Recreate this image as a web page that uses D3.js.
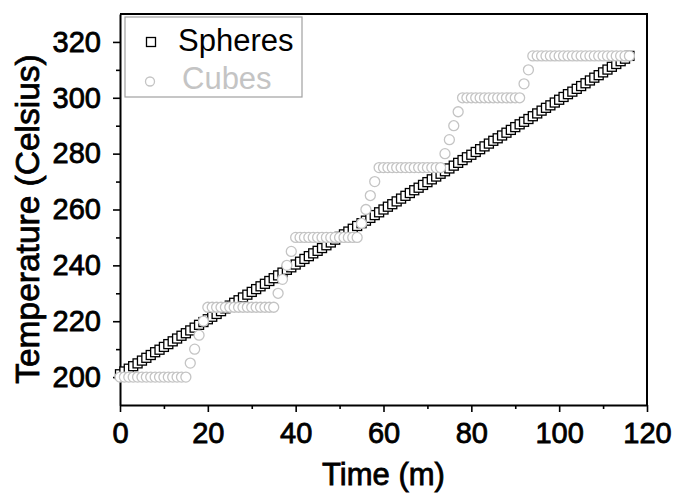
<!DOCTYPE html>
<html>
<head>
<meta charset="utf-8">
<script src="https://cdn.jsdelivr.net/npm/d3@7"></script>
<style>
    body { margin: 0; background: #fff; }
    svg { display: block; font-family: "Liberation Sans", Arial, sans-serif; }
</style>
</head>
<body>
<div id="chart"></div>
<script>
// time in minutes, one reading per minute
var time = d3.range(0, 117);

var spheres = [
    201.0, 202.0, 203.0, 203.9, 204.9, 205.9, 206.9, 207.9, 208.9, 209.8,
    210.8, 211.8, 212.8, 213.8, 214.8, 215.7, 216.7, 217.7, 218.7, 219.7,
    220.7, 221.6, 222.6, 223.6, 224.6, 225.6, 226.6, 227.5, 228.5, 229.5,
    230.5, 231.5, 232.5, 233.4, 234.4, 235.4, 236.4, 237.4, 238.4, 239.3,
    240.3, 241.3, 242.3, 243.3, 244.3, 245.2, 246.2, 247.2, 248.2, 249.2,
    250.2, 251.1, 252.1, 253.1, 254.1, 255.1, 256.0, 257.0, 258.0, 259.0,
    260.0, 261.0, 261.9, 262.9, 263.9, 264.9, 265.9, 266.9, 267.8, 268.8,
    269.8, 270.8, 271.8, 272.8, 273.7, 274.7, 275.7, 276.7, 277.7, 278.7,
    279.6, 280.6, 281.6, 282.6, 283.6, 284.6, 285.5, 286.5, 287.5, 288.5,
    289.5, 290.5, 291.4, 292.4, 293.4, 294.4, 295.4, 296.4, 297.3, 298.3,
    299.3, 300.3, 301.3, 302.2, 303.2, 304.2, 305.2, 306.2, 307.2, 308.1,
    309.1, 310.1, 311.1, 312.1, 313.1, 314.0, 315.0
];

var cubes = [
    200, 200, 200, 200, 200, 200, 200, 200, 200, 200,
    200, 200, 200, 200, 200, 200, 205, 210, 215, 220,
    225, 225, 225, 225, 225, 225, 225, 225, 225, 225,
    225, 225, 225, 225, 225, 225, 230, 235, 240, 245,
    250, 250, 250, 250, 250, 250, 250, 250, 250, 250,
    250, 250, 250, 250, 250, 255, 260, 265, 270, 275,
    275, 275, 275, 275, 275, 275, 275, 275, 275, 275,
    275, 275, 275, 275, 280, 285, 290, 295, 300, 300,
    300, 300, 300, 300, 300, 300, 300, 300, 300, 300,
    300, 300, 305, 310, 315, 315, 315, 315, 315, 315,
    315, 315, 315, 315, 315, 315, 315, 315, 315, 315,
    315, 315, 315, 315, 315, 315, 315
];

var xTicks = [0, 20, 40, 60, 80, 100, 120];
var yTicks = [200, 220, 240, 260, 280, 300, 320];
var seriesNames = ["Spheres", "Cubes"];

var W = 679, H = 493;
var m = {left: 120, right: 647, top: 14, bottom: 405};

var svg = d3.select("#chart").append("svg")
    .attr("width", W)
    .attr("height", H);

var x = d3.scaleLinear().domain([0, 120]).range([m.left, m.right]);
var y = d3.scaleLinear().domain([190, 330]).range([m.bottom, m.top]);

// frame (top and right edges)
svg.append("path")
    .attr("d", "M" + m.left + "," + m.top + "H" + m.right + "V" + m.bottom)
    .attr("fill", "none")
    .attr("stroke", "#000")
    .attr("stroke-width", 2);

// regular face with a thin stroke looks closer to the medium weight in the original
function heavy(sel, size) {
    sel.attr("font-size", size)
        .attr("font-family", "Liberation Sans, Arial, sans-serif")
        .attr("fill", "#000")
        .attr("stroke", "#000")
        .attr("stroke-width", 0.8);
}

// minor ticks
svg.append("g")
    .attr("transform", "translate(0," + m.bottom + ")")
    .call(d3.axisBottom(x).tickValues(d3.range(10, 120, 20)).tickSize(4).tickFormat(""))
    .call(function (g) { g.select(".domain").remove(); })
    .selectAll("line").attr("stroke-width", 1.6);

svg.append("g")
    .attr("transform", "translate(" + m.left + ",0)")
    .call(d3.axisLeft(y).tickValues(d3.range(210, 330, 20)).tickSize(4).tickFormat(""))
    .call(function (g) { g.select(".domain").remove(); })
    .selectAll("line").attr("stroke-width", 1.6);

var xAxis = svg.append("g")
    .attr("transform", "translate(0," + m.bottom + ")")
    .call(d3.axisBottom(x).tickValues(xTicks).tickSize(7).tickSizeOuter(0).tickPadding(10));
xAxis.select(".domain").attr("stroke-width", 2);
xAxis.selectAll(".tick line").attr("stroke-width", 1.6);
xAxis.selectAll("text").call(heavy, 29);

var yAxis = svg.append("g")
    .attr("transform", "translate(" + m.left + ",0)")
    .call(d3.axisLeft(y).tickValues(yTicks).tickSize(7).tickSizeOuter(0).tickPadding(12));
yAxis.select(".domain").attr("stroke-width", 2);
yAxis.selectAll(".tick line").attr("stroke-width", 1.6);
yAxis.selectAll("text").call(heavy, 29);

// axis titles
svg.append("text")
    .attr("x", (m.left + m.right) / 2)
    .attr("y", 485)
    .attr("text-anchor", "middle")
    .call(heavy, 31)
    .text("Time (m)");

svg.append("text")
    .attr("transform", "translate(39,219) rotate(-90)")
    .attr("text-anchor", "middle")
    .call(heavy, 33.5)
    .text("Temperature (Celsius)");

var plot = svg.append("g");

plot.selectAll("rect.sph")
    .data(time)
    .enter().append("rect")
    .attr("class", "sph")
    .attr("x", function (d) { return x(d) - 4.5; })
    .attr("y", function (d, i) { return y(spheres[i]) - 4.5; })
    .attr("width", 9)
    .attr("height", 9)
    .attr("fill", "#fff")
    .attr("stroke", "#000")
    .attr("stroke-width", 1.3);

plot.selectAll("circle.cub")
    .data(time)
    .enter().append("circle")
    .attr("class", "cub")
    .attr("cx", function (d) { return x(d); })
    .attr("cy", function (d, i) { return y(cubes[i]); })
    .attr("r", 5)
    .attr("fill", "#fff")
    .attr("stroke", "#c4c4c4")
    .attr("stroke-width", 1.3);

// legend
var legend = svg.append("g");
legend.append("rect")
    .attr("x", 125)
    .attr("y", 17)
    .attr("width", 177)
    .attr("height", 80)
    .attr("fill", "#fff")
    .attr("stroke", "#a0a0a0")
    .attr("stroke-width", 1.2);

legend.append("rect")
    .attr("x", 146.5).attr("y", 37.5)
    .attr("width", 9).attr("height", 9)
    .attr("fill", "#fff").attr("stroke", "#000").attr("stroke-width", 1.3);

legend.append("circle")
    .attr("cx", 150).attr("cy", 81.5).attr("r", 4.5)
    .attr("fill", "#fff").attr("stroke", "#c4c4c4").attr("stroke-width", 1.3);

legend.append("text")
    .attr("x", 178).attr("y", 51)
    .attr("font-size", 31)
    .attr("fill", "#000")
    .text(seriesNames[0]);

legend.append("text")
    .attr("x", 182).attr("y", 89)
    .attr("font-size", 31)
    .attr("fill", "#c4c4c4")
    .text(seriesNames[1]);
</script>
</body>
</html>
